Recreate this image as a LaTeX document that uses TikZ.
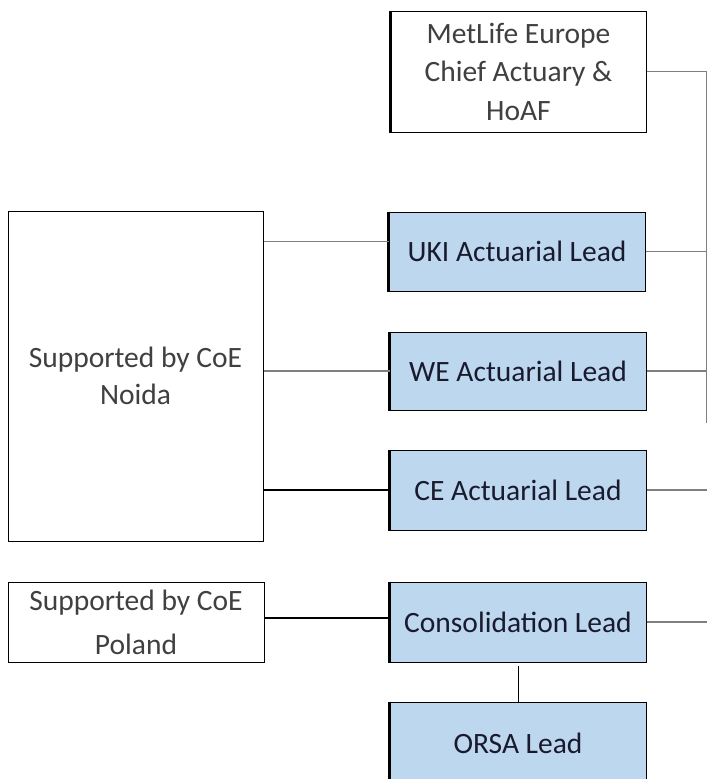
\documentclass[tikz,border=0pt]{standalone}
\usepackage{fontspec}
\setmainfont{Carlito}
\usetikzlibrary{calc}
\definecolor{leadblue}{HTML}{BDD7EE}
\definecolor{greytext}{HTML}{404040}
\definecolor{navytext}{HTML}{1A1A2E}
\definecolor{linegrey}{HTML}{7F7F7F}
\tikzset{
  whitebox/.style={draw=black, line width=1pt, fill=white, text=greytext, align=center,
    font=\fontsize{29.5}{38.5}\selectfont, inner sep=0pt},
  bluebox/.style={draw=black, line width=1pt, fill=leadblue, text=navytext, align=center,
    font=\fontsize{29.5}{38}\selectfont, inner sep=0pt, leftedge},
  leftedge/.style={append after command={(\tikzlastnode.north west) edge[draw=black, line width=2.2pt] (\tikzlastnode.south west)}},
  thinlink/.style={draw=linegrey, line width=1.3pt},
  thicklink/.style={draw=black, line width=2pt},
}
\begin{document}
\begin{tikzpicture}[x=1pt,y=-1pt]
\useasboundingbox (0,0) rectangle (707,779);
\node[whitebox, leftedge, minimum width=255pt, minimum height=121pt] (top) at (518.5,71.5)
  {MetLife Europe\\Chief Actuary \&\\HoAF};
\node[bluebox, minimum width=256pt, minimum height=79pt] (uki) at (517,251.5) {UKI Actuarial Lead};
\node[bluebox, minimum width=256pt, minimum height=78pt] (we) at (518,371) {WE Actuarial Lead};
\node[bluebox, minimum width=256pt, minimum height=80pt] (ce) at (518,490) {CE Actuarial Lead};
\node[bluebox, minimum width=256pt, minimum height=80pt] (cons) at (518,622) {Consolidation Lead};
\node[bluebox, minimum width=256pt, minimum height=82pt] (orsa) at (518,743) {ORSA Lead};
\node[whitebox, minimum width=255pt, minimum height=330pt, font=\fontsize{29.5}{37}\selectfont] (noida) at (135.5,376)
  {Supported by CoE\\Noida};
\node[whitebox, minimum width=256pt, minimum height=80pt, font=\fontsize{29.5}{44}\selectfont] (poland) at (136,622)
  {Supported by CoE\\Poland};
% right-hand rail
\coordinate (railtop) at (706.5,71.5);
\coordinate (railbot) at (706.5,423);
\draw[thinlink] (top.east) -- (railtop) -- (railbot);
\draw[thinlink] (uki.east) -- (uki.east -| railtop);
\draw[thinlink] (we.east) -- (we.east -| railtop);
\draw[thinlink] (ce.east) -- (ce.east -| railtop);
\draw[thinlink] (cons.east) -- (cons.east -| railtop);
% left-hand links
\coordinate (ukiin) at ([yshift=10pt]uki.west);
\draw[thinlink] (ukiin -| noida.east) -- (ukiin);
\draw[thinlink] (we.west -| noida.east) -- (we.west);
\draw[thicklink] (ce.west -| noida.east) -- (ce.west);
\coordinate (consin) at ([yshift=4pt]cons.west);
\draw[thicklink] (consin -| poland.east) -- (consin);
% consolidation to ORSA
\draw[draw=black, line width=1pt] ([yshift=-3pt]cons.south) -- (orsa.north);
\end{tikzpicture}
\end{document}
